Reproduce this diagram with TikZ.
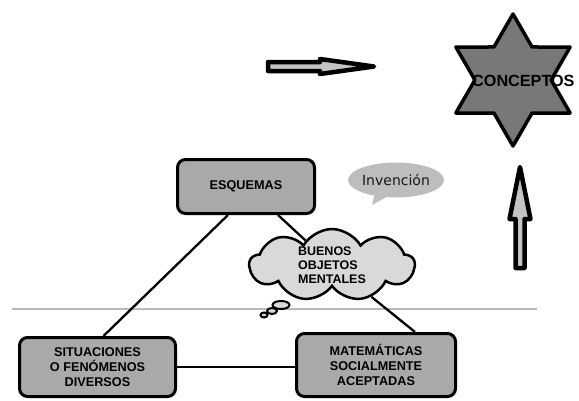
\documentclass[tikz,border=0pt]{standalone}
\usepackage{fontspec}
\setmainfont{Liberation Sans}
\newfontfamily\roundfont{DejaVu Sans}
\usetikzlibrary{shapes.geometric,shapes.symbols,shapes.callouts}
\definecolor{boxgray}{HTML}{A9A9A9}
\definecolor{cloudgray}{HTML}{D9D9D9}
\definecolor{stargray}{HTML}{787878}
\definecolor{arrowgray}{HTML}{C4C4C4}
\definecolor{bubblegray}{HTML}{BDBDBD}

\begin{document}
\begin{tikzpicture}[x=1pt,y=-1pt,
  box/.style={draw,line width=3pt,fill=boxgray,rounded corners=8pt,align=center,
    font=\bfseries\fontsize{12.7}{14.8}\selectfont},
  link/.style={line width=2.3pt},
  bubble/.style={ellipse,draw,line width=2pt,fill=cloudgray,inner sep=0pt},
  fatarrow/.style={draw,line width=4.5pt,fill=arrowgray,line join=round}]
\useasboundingbox (0,0) rectangle (579,400);
\clip (0,0) rectangle (579,400);

%horizontal rule behind the cloud
\draw[gray!55,line width=1.5pt] (12,309) -- (537,309);

%the three corners
\node[box,minimum width=137pt,minimum height=54pt] (esq) at (246,186.5) {ESQUEMAS};
\node[box,minimum width=156pt,minimum height=59pt] (sit) at (97.5,367) {SITUACIONES\\O FENÓMENOS\\DIVERSOS};
\node[box,minimum width=159pt,minimum height=63pt] (mat) at (376,365) {MATEMÁTICAS\\SOCIALMENTE\\ACEPTADAS};

\draw[link] ([xshift=-18pt]esq.south) -- ([xshift=6pt]sit.north);
\draw[link] (sit.east) -- (sit.east -| mat.west);

%cloud with its thought bubbles
\node[cloud,cloud puffs=9,cloud puff arc=120,aspect=2.3,draw,line width=2.5pt,fill=cloudgray,
  minimum width=165pt,minimum height=72pt,inner sep=0pt] (cloud) at (332,265) {};
\node[align=left,font=\bfseries\fontsize{12.5}{14}\selectfont] (bom) at (cloud.center) {BUENOS\\OBJETOS\\MENTALES};
\draw[link] ([xshift=32pt]esq.south) -- (cloud);
\draw[link] (cloud) -- ([xshift=39pt]mat.north);
\node[bubble,minimum width=17pt,minimum height=8pt] (b1) at (281,305) {};
\node[bubble,minimum width=10pt,minimum height=6pt] (b2) at (272,311) {};
\node[bubble,minimum width=7pt,minimum height=5pt] (b3) at (264,315) {};

%speech bubble
\node[ellipse callout,fill=bubblegray,minimum width=88pt,minimum height=35pt,inner sep=0pt,
  callout absolute pointer={(372,205)},font=\roundfont\fontsize{14}{14}\selectfont,
  text=black!90] (inv) at (396,180) {Invención};

%star and arrows
\node[star,star points=6,star point ratio=1.732,draw,line width=3.5pt,line join=round,
  fill=stargray,minimum size=132pt,inner sep=0pt] (star) at (513,80) {};
\node[anchor=west,inner sep=0pt,font=\bfseries\fontsize{16.2}{16.2}\selectfont] (conc) at (472,81) {CONCEPTOS};

\draw[fatarrow] (268,62) -- (320,62) -- (320,59) -- (374,66.5) -- (320,74) -- (320,71) -- (268,71) -- cycle;
\draw[fatarrow] (524.5,268) -- (524.5,219) -- (530.5,219) -- (520,167) -- (509.5,219) -- (515.5,219) -- (515.5,268) -- cycle;
\end{tikzpicture}
\end{document}
